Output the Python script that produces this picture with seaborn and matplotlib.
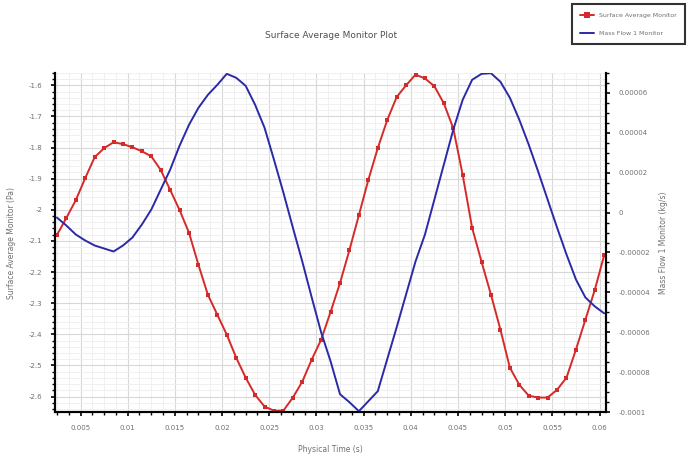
import numpy as np
import pandas as pd
import matplotlib
matplotlib.use("Agg")
import matplotlib.pyplot as plt
from matplotlib.ticker import MultipleLocator, AutoMinorLocator
import seaborn as sns

# ---- data ----
time_s = np.round(np.arange(0.0025, 0.0606, 0.001), 4)

surface_avg = [
    -2.081, -2.026, -1.969, -1.898, -1.831, -1.802, -1.783, -1.789, -1.799, -1.812,
    -1.828, -1.872, -1.936, -2.001, -2.074, -2.177, -2.273, -2.337, -2.401, -2.475,
    -2.539, -2.594, -2.632, -2.645, -2.645, -2.603, -2.552, -2.481, -2.417, -2.328,
    -2.235, -2.129, -2.017, -1.904, -1.802, -1.712, -1.638, -1.600, -1.566, -1.578,
    -1.603, -1.658, -1.738, -1.888, -2.058, -2.167, -2.273, -2.385, -2.507, -2.562,
    -2.597, -2.603, -2.603, -2.578, -2.539, -2.449, -2.353, -2.257, -2.145,
]

mass_flow_e5 = [
    -0.25, -0.65, -1.10, -1.40, -1.65, -1.80, -1.95, -1.65, -1.25, -0.60,
    0.15, 1.15, 2.15, 3.35, 4.40, 5.25, 5.90, 6.40, 6.95, 6.75,
    6.35, 5.40, 4.25, 2.65, 1.00, -0.75, -2.45, -4.25, -6.00, -7.45,
    -9.10, -9.50, -9.95, -9.45, -8.95, -7.35, -5.75, -4.10, -2.45, -1.10,
    0.65, 2.40, 4.15, 5.65, 6.65, 6.95, 6.98, 6.55, 5.75, 4.65,
    3.40, 2.05, 0.65, -0.75, -2.10, -3.35, -4.25, -4.70, -5.05,
]
mass_flow = [v * 1e-5 for v in mass_flow_e5]

x_ticks = [0.005, 0.01, 0.015, 0.02, 0.025, 0.03, 0.035, 0.04, 0.045, 0.05, 0.055, 0.06]
x_tick_labels = ["0.005", "0.01", "0.015", "0.02", "0.025", "0.03", "0.035", "0.04",
                 "0.045", "0.05", "0.055", "0.06"]
left_ticks = [-1.6, -1.7, -1.8, -1.9, -2.0, -2.1, -2.2, -2.3, -2.4, -2.5, -2.6]
left_tick_labels = ["-1.6", "-1.7", "-1.8", "-1.9", "-2", "-2.1", "-2.2", "-2.3", "-2.4", "-2.5", "-2.6"]
right_ticks = [6e-5, 4e-5, 2e-5, 0, -2e-5, -4e-5, -6e-5, -8e-5, -1e-4]
right_tick_labels = ["0.00006", "0.00004", "0.00002", "0", "-0.00002", "-0.00004",
                     "-0.00006", "-0.00008", "-0.0001"]

df = pd.DataFrame({"time": time_s, "surface": surface_avg, "mass": mass_flow})

sns.set_style("white")
plt.rcParams["font.family"] = ["DejaVu Sans"]

RED = "#d42a2a"
BLUE = "#2a2aa8"
TXT = "#707070"

fig = plt.figure(figsize=(6.88, 4.58), dpi=100)
ax = fig.add_axes([0.080, 0.100, 0.801, 0.741])
ax2 = ax.twinx()

sns.lineplot(data=df, x="time", y="surface", ax=ax, color=RED, linewidth=1.4,
             marker="s", markersize=2.6, markeredgewidth=0, label="Surface Average Monitor",
             legend=False)
sns.lineplot(data=df, x="time", y="mass", ax=ax2, color=BLUE, linewidth=1.4,
             label="Mass Flow 1 Monitor", legend=False)

ax.set_xlim(0.0023, 0.0607)
ax.set_ylim(-2.65, -1.56)
ax2.set_ylim(-1.0e-4, 7.0e-5)

ax.set_xticks(x_ticks)
ax.set_xticklabels(x_tick_labels)
ax.xaxis.set_minor_locator(AutoMinorLocator(4))
ax.set_yticks(left_ticks)
ax.set_yticklabels(left_tick_labels)
ax.yaxis.set_minor_locator(MultipleLocator(0.02))
ax2.set_yticks(right_ticks)
ax2.set_yticklabels(right_tick_labels)
ax2.yaxis.set_minor_locator(MultipleLocator(5e-6))

ax.grid(True, which="major", color="#d8d8d8", linewidth=0.8)
ax.grid(True, which="minor", color="#eeeeee", linewidth=0.6)
ax.set_axisbelow(True)
ax2.grid(False)

for a in (ax, ax2):
    for side in ("left", "bottom", "right"):
        a.spines[side].set_visible(True)
        a.spines[side].set_color("black")
        a.spines[side].set_linewidth(1.5)
    a.spines["top"].set_visible(False)

ax.tick_params(axis="both", which="major", direction="out", length=3, width=1.2,
               color="black", labelsize=5, labelcolor=TXT, pad=6)
ax.tick_params(axis="both", which="minor", direction="out", length=2, width=1.0, color="black")
ax.tick_params(axis="x", which="both", bottom=True)
ax.tick_params(axis="y", which="both", left=True)
ax2.tick_params(axis="y", which="major", direction="out", length=3, width=1.2,
                color="black", labelsize=5, labelcolor=TXT, pad=6, right=True)
ax2.tick_params(axis="y", which="minor", direction="out", length=2, width=1.0,
                color="black", right=True)

ax.set_xlabel("Physical Time (s)", fontsize=5.5, color=TXT, labelpad=10)
ax.set_ylabel("Surface Average Monitor (Pa)", fontsize=5.5, color=TXT, labelpad=9)
ax2.set_ylabel("Mass Flow 1 Monitor (kg/s)", fontsize=5.5, color=TXT, labelpad=6)
ax.set_title("Surface Average Monitor Plot", fontsize=6.5, color="#505050", pad=25)

h1, l1 = ax.get_legend_handles_labels()
h2, l2 = ax2.get_legend_handles_labels()
leg = fig.legend(h1 + h2, l1 + l2, loc="upper right", bbox_to_anchor=(1.0, 0.997),
                 fontsize=4.5, frameon=True, fancybox=False, borderpad=1.3,
                 labelspacing=2.0, handlelength=2.2, labelcolor=TXT, markerscale=1.8)
leg.get_frame().set_edgecolor("black")
leg.get_frame().set_linewidth(1.5)

fig.savefig("out.png", dpi=100)
